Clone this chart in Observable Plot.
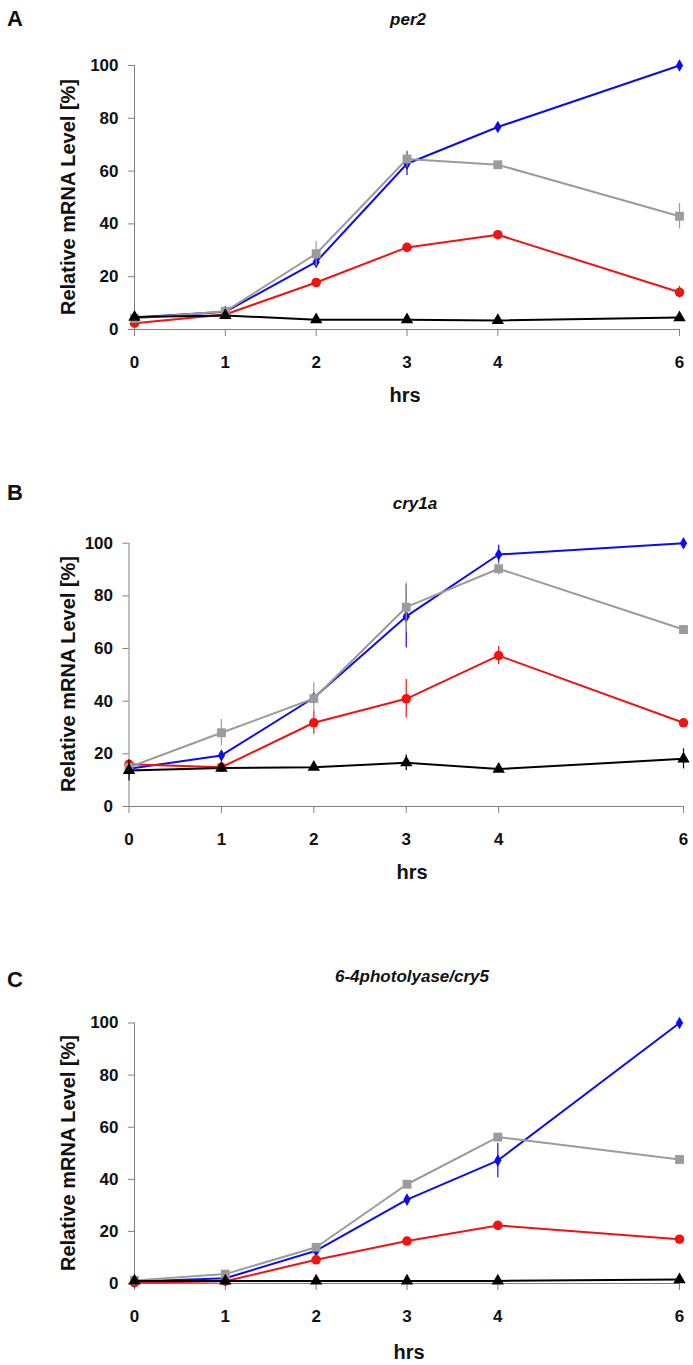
<!DOCTYPE html>
<html>
<head>
<meta charset="utf-8">
<script src="https://cdn.jsdelivr.net/npm/d3@7"></script>
<script src="https://cdn.jsdelivr.net/npm/@observablehq/plot@0.6"></script>
<style>
  html, body { margin: 0; padding: 0; background: #fff; overflow: hidden; }
  #wrap { position: relative; width: 693px; height: 1365px; font-family: "Liberation Sans", Arial, sans-serif; color: #111; }
  .abs { position: absolute; line-height: 1; white-space: nowrap; }
  .ctr { transform: translate(-50%, -50%); }
  .letter { font-weight: bold; font-size: 22px; }
  .title { font-weight: bold; font-style: italic; font-size: 17px; }
  .xlab { font-weight: bold; font-size: 20px; }
  .ylab { font-weight: bold; font-size: 20px; transform: translate(-50%, -50%) rotate(-90deg); }
  .panel { position: absolute; left: 0; }
</style>
</head>
<body>
<div id="wrap"></div>
<script>
// ---------- data ----------
const hours = [0, 1, 2, 3, 4, 6];
const yTicks = [0, 20, 40, 60, 80, 100];
const seriesNames = ["condition1", "condition2", "condition3", "condition4"];
const panelTitles = ["per2", "cry1a", "6-4photolyase/cry5"];
const panelLetters = ["A", "B", "C"];

// per2
const per2_s1 = [4.5, 6.7, 25.6, 62.8, 76.7, 100];
const per2_s1_err = [0.5, 0.5, 1.5, 4.5, 1, 0];
const per2_s2 = [4.2, 6.9, 28.7, 64.6, 62.4, 42.9];
const per2_s2_err = [0.5, 0.8, 4.6, 3, 1, 4.8];
const per2_s3 = [2.4, 5.7, 17.8, 31.1, 35.9, 14.1];
const per2_s3_err = [0.8, 0.5, 1, 1, 1, 2.2];
const per2_s4 = [4.7, 5.3, 3.7, 3.7, 3.4, 4.5];
const per2_s4_err = [0.5, 0.5, 0.3, 0.3, 0.3, 0.5];

// cry1a
const cry1a_s1 = [14.3, 19.4, 41.3, 72.2, 95.7, 100];
const cry1a_s1_err = [1, 1, 1.5, 12, 3.5, 0];
const cry1a_s2 = [14.9, 28, 41, 75.7, 90.3, 67.2];
const cry1a_s2_err = [1, 5, 6, 9.5, 2.5, 1];
const cry1a_s3 = [16, 14.9, 31.8, 40.9, 57.3, 31.8];
const cry1a_s3_err = [1, 1.5, 4.4, 7.3, 3.5, 1];
const cry1a_s4 = [13.7, 14.6, 14.9, 16.6, 14.2, 18.1];
const cry1a_s4_err = [4, 1, 1, 3, 1, 3.8];

// 6-4photolyase/cry5
const cry5_s1 = [0.8, 2.0, 12.6, 32.2, 47.2, 100];
const cry5_s1_err = [0.3, 0.5, 1.5, 1, 6.6, 0];
const cry5_s2 = [1.2, 3.6, 13.9, 38.1, 56.2, 47.6];
const cry5_s2_err = [0.5, 0.5, 1, 1.5, 1, 1];
const cry5_s3 = [0.3, 0.9, 9.1, 16.3, 22.3, 17.0];
const cry5_s3_err = [0.3, 0.3, 0.5, 0.5, 0.5, 0.5];
const cry5_s4 = [1, 1, 1, 1, 1, 1.5];
const cry5_s4_err = [0.5, 0.5, 0.5, 0.5, 0.5, 0.5];

// ---------- styling ----------
const colors = { condition1: "#0c0cee", condition2: "#9b9b9b", condition3: "#ee1414", condition4: "#000000" };
const symbols = { condition1: "diamond", condition2: "square", condition3: "circle", condition4: "triangle" };
const radii = { condition1: 3.8, condition2: 5, condition3: 4.8, condition4: 4.6 };
const drawOrder = ["condition1", "condition3", "condition2", "condition4"];
const axisGray = "#808080";

function buildRows(vals, errs) {
  const rows = [];
  seriesNames.forEach((s, k) => {
    hours.forEach((h, i) => rows.push({ hr: h, series: s, value: vals[k][i], err: errs[k][i] }));
  });
  return rows;
}

const panelsData = [
  buildRows([per2_s1, per2_s2, per2_s3, per2_s4], [per2_s1_err, per2_s2_err, per2_s3_err, per2_s4_err]),
  buildRows([cry1a_s1, cry1a_s2, cry1a_s3, cry1a_s4], [cry1a_s1_err, cry1a_s2_err, cry1a_s3_err, cry1a_s4_err]),
  buildRows([cry5_s1, cry5_s2, cry5_s3, cry5_s4], [cry5_s1_err, cry5_s2_err, cry5_s3_err, cry5_s4_err])
];

// layout per panel (pixels)
const layout = [
  { top: 0,   svgH: 390, mt: 65,   plotH: 264, ml: 134, mr: 14, letterY: 16,  titleX: 408, titleY: 19,  xlabY: 395 },
  { top: 480, svgH: 390, mt: 62.7, plotH: 263.3, ml: 128.5, mr: 10, letterY: 490, titleX: 415, titleY: 503, xlabY: 872 },
  { top: 960, svgH: 390, mt: 62.5, plotH: 260.5, ml: 134, mr: 14, letterY: 977, titleX: 412, titleY: 976, xlabY: 1352 }
];

const wrap = document.getElementById("wrap");

function addText(cls, text, x, y) {
  const d = document.createElement("div");
  d.className = "abs " + cls;
  d.textContent = text;
  d.style.left = x + "px";
  d.style.top = y + "px";
  wrap.appendChild(d);
  return d;
}

panelsData.forEach((rows, p) => {
  const L = layout[p];
  const marks = [
    Plot.ruleY([0], { stroke: axisGray, strokeWidth: 1 }),
    Plot.ruleX([0], { y1: 0, y2: 100, stroke: axisGray, strokeWidth: 1 }),
    Plot.axisY({ ticks: yTicks, tickSize: 6, tickPadding: 10, stroke: axisGray, label: null }),
    Plot.axisX({ ticks: hours, tickSize: 7, tickPadding: 19, stroke: axisGray, label: null, tickFormat: d => String(d) })
  ];
  drawOrder.forEach(s => {
    const data = rows.filter(r => r.series === s);
    marks.push(Plot.ruleX(data.filter(r => r.err > 0), {
      x: "hr", y1: r => r.value - r.err, y2: r => r.value + r.err,
      stroke: colors[s], strokeWidth: 1.2
    }));
    marks.push(Plot.line(data, { x: "hr", y: "value", stroke: colors[s], strokeWidth: 2 }));
    marks.push(Plot.dot(data, { x: "hr", y: "value", symbol: () => symbols[s], r: radii[s], fill: colors[s], stroke: "none" }));
  });

  const chart = Plot.plot({
    width: 693,
    height: L.svgH,
    marginLeft: L.ml,
    marginRight: L.mr,
    marginTop: L.mt,
    marginBottom: L.svgH - L.mt - L.plotH,
    x: { domain: [0, 6] },
    y: { domain: [0, 100] },
    symbol: { type: "identity" },
    style: {
      fontFamily: "'Liberation Sans', Arial, sans-serif",
      fontSize: "17px",
      fontWeight: "bold",
      color: "#111",
      background: "transparent",
      overflow: "visible"
    },
    marks
  });
  const holder = document.createElement("div");
  holder.className = "panel";
  holder.style.top = L.top + "px";
  holder.appendChild(chart);
  wrap.appendChild(holder);

  addText("letter", panelLetters[p], 7, L.letterY - 8);
  addText("title ctr", panelTitles[p], L.titleX, L.titleY);
  addText("xlab ctr", "hrs", L.titleX - 3, L.xlabY);
  addText("ylab", "Relative mRNA Level [%]", 68, L.top + L.mt + L.plotH / 2);
});
</script>
</body>
</html>
